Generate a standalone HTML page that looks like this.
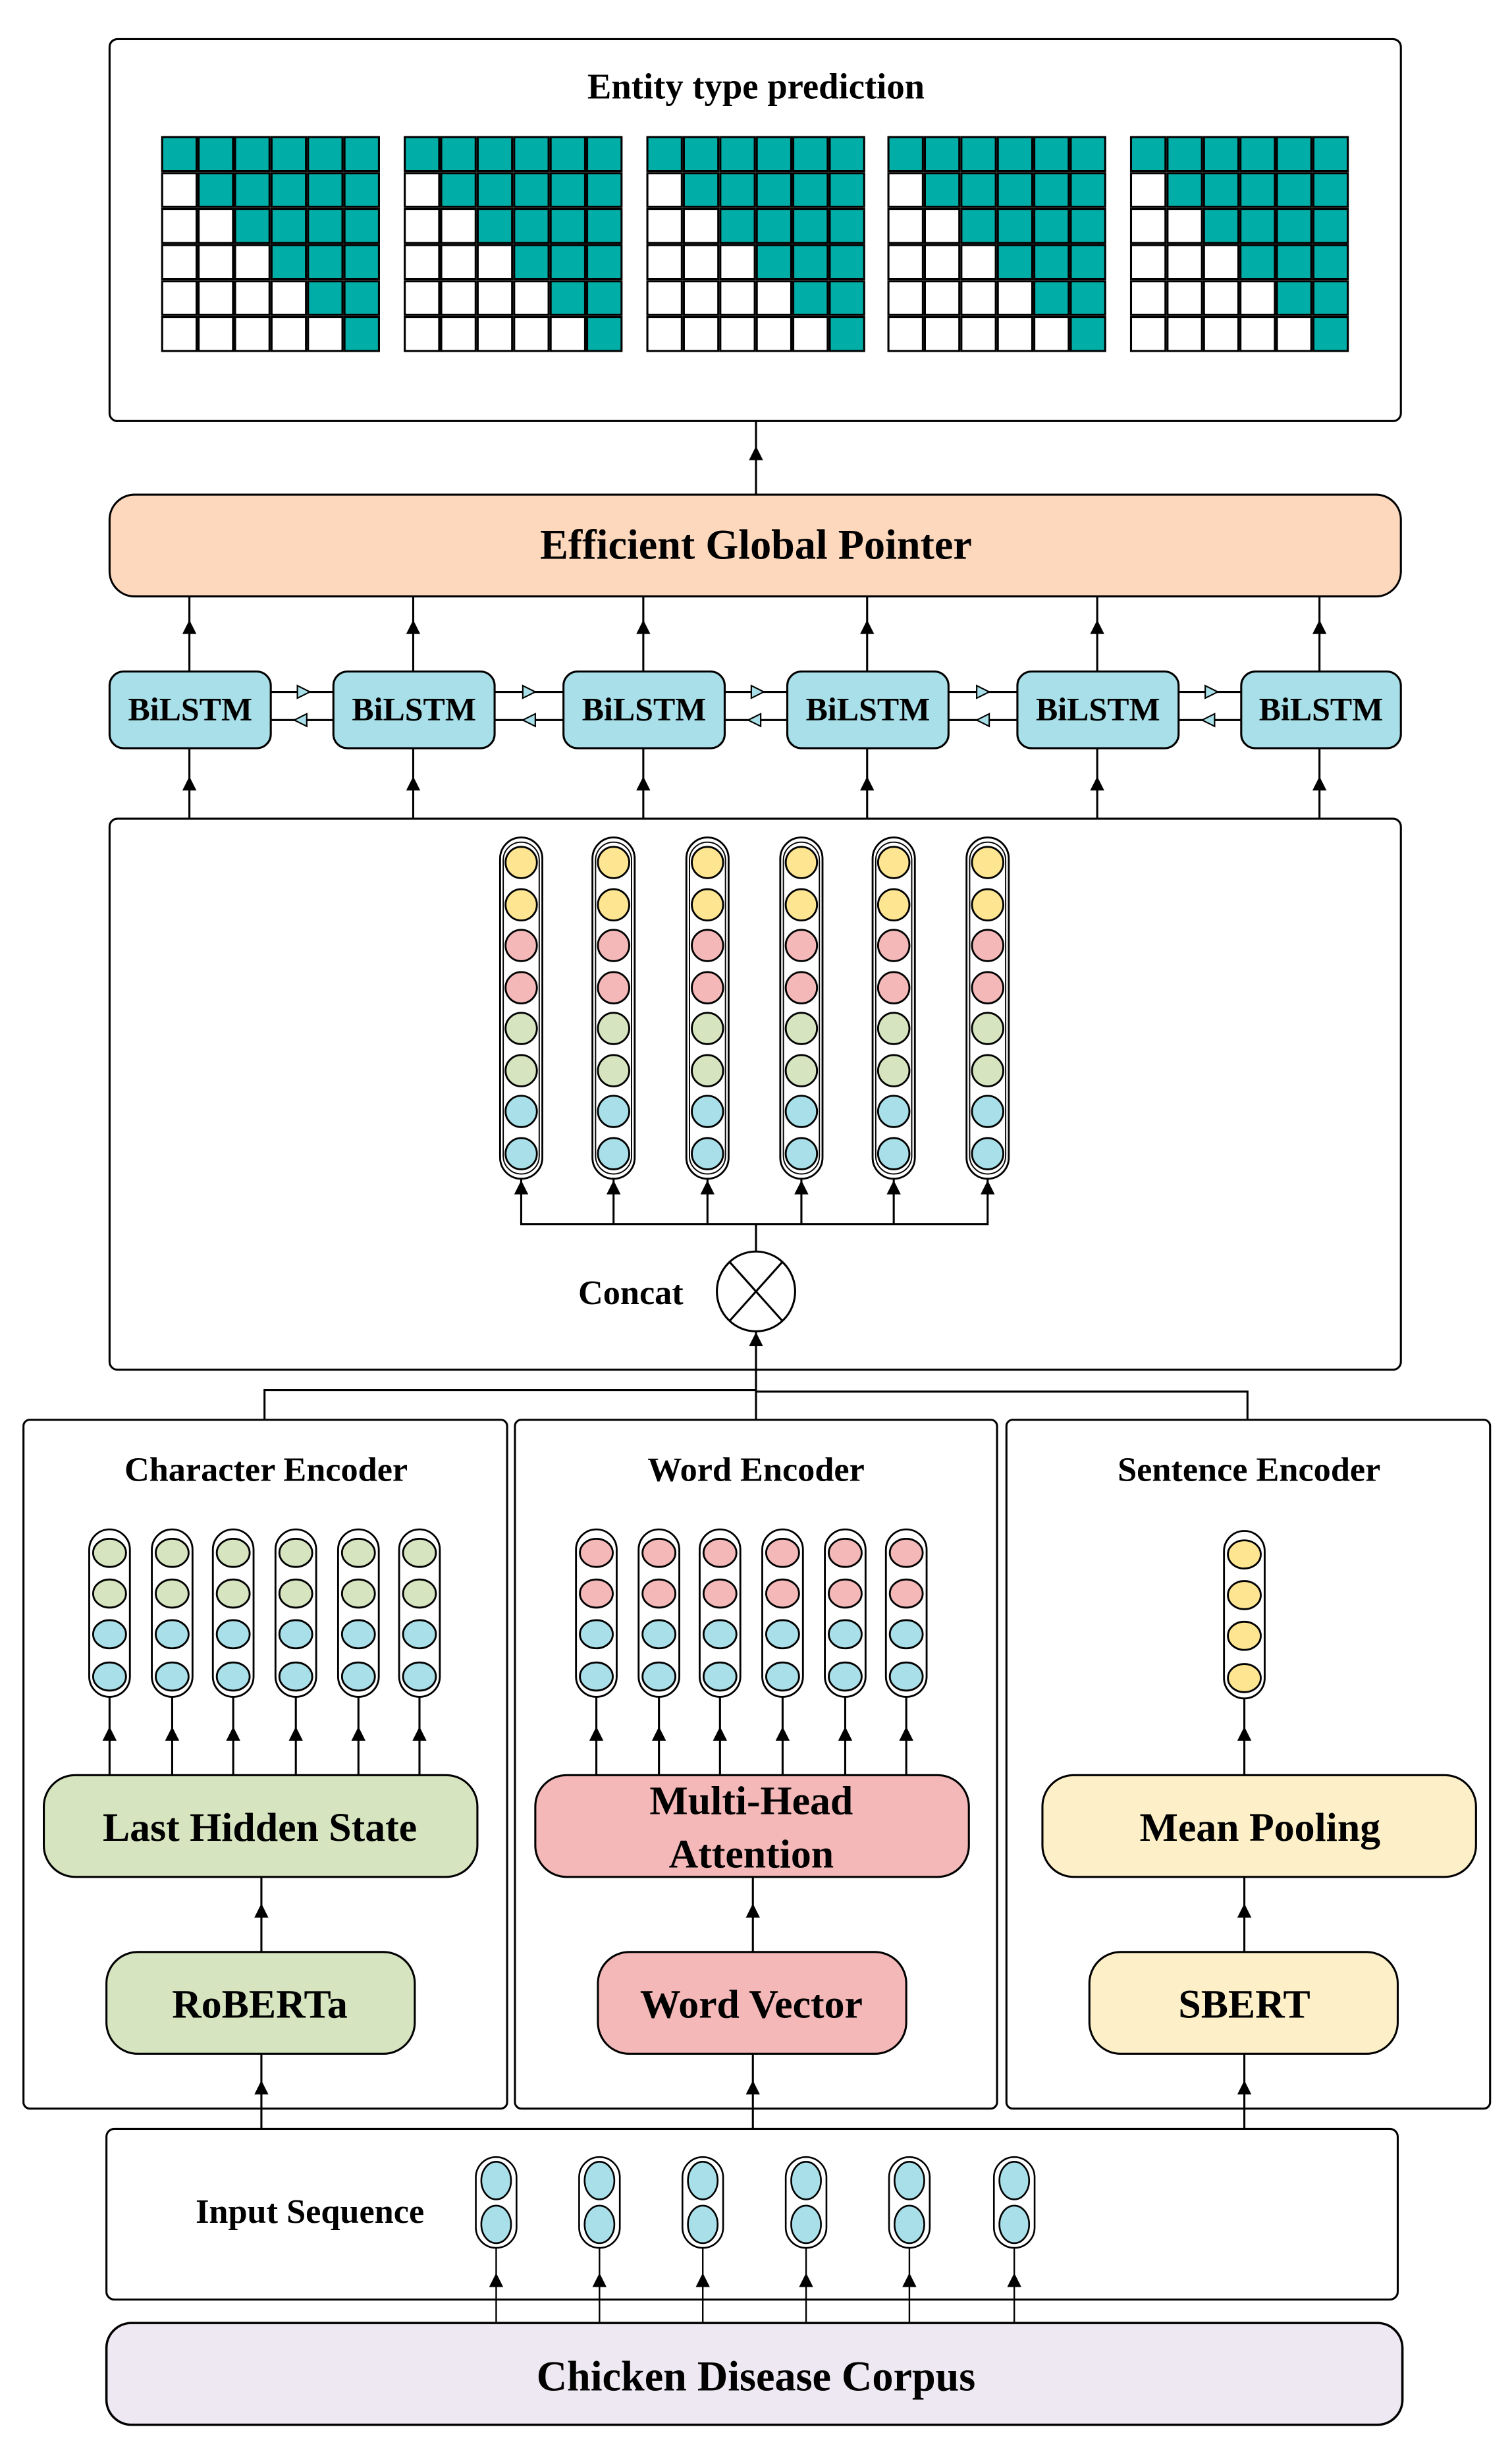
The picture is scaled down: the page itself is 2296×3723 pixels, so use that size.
<!DOCTYPE html>
<html><head><meta charset="utf-8"><style>
html,body{margin:0;padding:0;background:#fff;}
svg{display:block;}
text{font-family:"Liberation Serif",serif;font-weight:bold;fill:#000;}
</style></head><body>
<svg width="2296" height="3723" viewBox="0 0 966 1566.4" preserveAspectRatio="none" xmlns="http://www.w3.org/2000/svg">
<defs>
<polygon id="ah" points="0,0 -4.5,9 4.5,9" fill="#000"/>
<g id="grid" stroke="#000" stroke-width="1.3">
<rect x="0.6" y="0.6" width="22" height="21.6" fill="#00ada7"/><rect x="23.9" y="0.6" width="22" height="21.6" fill="#00ada7"/><rect x="47.2" y="0.6" width="22" height="21.6" fill="#00ada7"/><rect x="70.5" y="0.6" width="22" height="21.6" fill="#00ada7"/><rect x="93.8" y="0.6" width="22" height="21.6" fill="#00ada7"/><rect x="117.1" y="0.6" width="22" height="21.6" fill="#00ada7"/>
<rect x="0.6" y="23.6" width="22" height="21.6" fill="#fff"/><rect x="23.9" y="23.6" width="22" height="21.6" fill="#00ada7"/><rect x="47.2" y="23.6" width="22" height="21.6" fill="#00ada7"/><rect x="70.5" y="23.6" width="22" height="21.6" fill="#00ada7"/><rect x="93.8" y="23.6" width="22" height="21.6" fill="#00ada7"/><rect x="117.1" y="23.6" width="22" height="21.6" fill="#00ada7"/>
<rect x="0.6" y="46.6" width="22" height="21.6" fill="#fff"/><rect x="23.9" y="46.6" width="22" height="21.6" fill="#fff"/><rect x="47.2" y="46.6" width="22" height="21.6" fill="#00ada7"/><rect x="70.5" y="46.6" width="22" height="21.6" fill="#00ada7"/><rect x="93.8" y="46.6" width="22" height="21.6" fill="#00ada7"/><rect x="117.1" y="46.6" width="22" height="21.6" fill="#00ada7"/>
<rect x="0.6" y="69.6" width="22" height="21.6" fill="#fff"/><rect x="23.9" y="69.6" width="22" height="21.6" fill="#fff"/><rect x="47.2" y="69.6" width="22" height="21.6" fill="#fff"/><rect x="70.5" y="69.6" width="22" height="21.6" fill="#00ada7"/><rect x="93.8" y="69.6" width="22" height="21.6" fill="#00ada7"/><rect x="117.1" y="69.6" width="22" height="21.6" fill="#00ada7"/>
<rect x="0.6" y="92.6" width="22" height="21.6" fill="#fff"/><rect x="23.9" y="92.6" width="22" height="21.6" fill="#fff"/><rect x="47.2" y="92.6" width="22" height="21.6" fill="#fff"/><rect x="70.5" y="92.6" width="22" height="21.6" fill="#fff"/><rect x="93.8" y="92.6" width="22" height="21.6" fill="#00ada7"/><rect x="117.1" y="92.6" width="22" height="21.6" fill="#00ada7"/>
<rect x="0.6" y="115.6" width="22" height="21.6" fill="#fff"/><rect x="23.9" y="115.6" width="22" height="21.6" fill="#fff"/><rect x="47.2" y="115.6" width="22" height="21.6" fill="#fff"/><rect x="70.5" y="115.6" width="22" height="21.6" fill="#fff"/><rect x="93.8" y="115.6" width="22" height="21.6" fill="#fff"/><rect x="117.1" y="115.6" width="22" height="21.6" fill="#00ada7"/>
</g>
<g id="col8" stroke="#000" stroke-width="1.2">
<rect x="-13.5" y="0" width="27" height="218" rx="13.5" fill="#fff"/>
<rect x="-11.5" y="3" width="23" height="212" rx="11.5" fill="none" stroke-width="0.8"/>
<circle cx="0" cy="16" r="10" fill="#fde592"/><circle cx="0" cy="43" r="10" fill="#fde592"/>
<circle cx="0" cy="69" r="10" fill="#f4b8b8"/><circle cx="0" cy="96" r="10" fill="#f4b8b8"/>
<circle cx="0" cy="122" r="10" fill="#d6e4c0"/><circle cx="0" cy="149" r="10" fill="#d6e4c0"/>
<circle cx="0" cy="175" r="10" fill="#a8dfe8"/><circle cx="0" cy="202" r="10" fill="#a8dfe8"/>
</g>
<g id="colC" stroke="#000" stroke-width="1.2">
<rect x="-13" y="0" width="26" height="107" rx="13" fill="#fff"/>
<ellipse cx="0" cy="15" rx="10.5" ry="9" fill="#d6e4c0"/><ellipse cx="0" cy="41" rx="10.5" ry="9" fill="#d6e4c0"/>
<ellipse cx="0" cy="67" rx="10.5" ry="9" fill="#a8dfe8"/><ellipse cx="0" cy="94" rx="10.5" ry="9" fill="#a8dfe8"/>
</g>
<g id="colW" stroke="#000" stroke-width="1.2">
<rect x="-13" y="0" width="26" height="107" rx="13" fill="#fff"/>
<ellipse cx="0" cy="15" rx="10.5" ry="9" fill="#f4b8b8"/><ellipse cx="0" cy="41" rx="10.5" ry="9" fill="#f4b8b8"/>
<ellipse cx="0" cy="67" rx="10.5" ry="9" fill="#a8dfe8"/><ellipse cx="0" cy="94" rx="10.5" ry="9" fill="#a8dfe8"/>
</g>
<g id="colS" stroke="#000" stroke-width="1.2">
<rect x="-13" y="0" width="26" height="107" rx="13" fill="#fff"/>
<ellipse cx="0" cy="15" rx="10.5" ry="9" fill="#fde592"/><ellipse cx="0" cy="41" rx="10.5" ry="9" fill="#fde592"/>
<ellipse cx="0" cy="67" rx="10.5" ry="9" fill="#fde592"/><ellipse cx="0" cy="94" rx="10.5" ry="9" fill="#fde592"/>
</g>
<g id="colI" stroke="#000" stroke-width="1.1">
<rect x="-13" y="0" width="26" height="58" rx="13" fill="#fff"/>
<ellipse cx="0" cy="15" rx="9.5" ry="12" fill="#a8dfe8"/><ellipse cx="0" cy="43" rx="9.5" ry="12" fill="#a8dfe8"/>
</g>
<g id="fwd"><polygon points="0,-4 8,0 0,4" fill="#a8dfe8" stroke="#000" stroke-width="0.9"/></g>
<g id="bwd"><polygon points="0,-4 -8,0 0,4" fill="#a8dfe8" stroke="#000" stroke-width="0.9"/></g>
</defs>

<g fill="none" stroke="#000" stroke-width="1.3">
<!-- top box -->
<rect x="70" y="25" width="825" height="244" rx="5" fill="#fff"/>
</g>
<text x="483" y="63" font-size="23" text-anchor="middle">Entity type prediction</text>
<use href="#grid" x="103" y="87"/>
<use href="#grid" x="258" y="87"/>
<use href="#grid" x="413" y="87"/>
<use href="#grid" x="567" y="87"/>
<use href="#grid" x="722" y="87"/>

<g stroke="#000" stroke-width="1.3" fill="none">
<line x1="483" y1="269" x2="483" y2="316"/>
<!-- EGP to BiLSTM lines -->
<line x1="121" y1="381" x2="121" y2="429"/>
<line x1="264" y1="381" x2="264" y2="429"/>
<line x1="411" y1="381" x2="411" y2="429"/>
<line x1="554" y1="381" x2="554" y2="429"/>
<line x1="701" y1="381" x2="701" y2="429"/>
<line x1="843" y1="381" x2="843" y2="429"/>
<line x1="121" y1="478" x2="121" y2="523"/>
<line x1="264" y1="478" x2="264" y2="523"/>
<line x1="411" y1="478" x2="411" y2="523"/>
<line x1="554" y1="478" x2="554" y2="523"/>
<line x1="701" y1="478" x2="701" y2="523"/>
<line x1="843" y1="478" x2="843" y2="523"/>
<!-- horizontal between bilstm -->
<line x1="173" y1="442" x2="213" y2="442"/><line x1="173" y1="460" x2="213" y2="460"/>
<line x1="316" y1="442" x2="360" y2="442"/><line x1="316" y1="460" x2="360" y2="460"/>
<line x1="463" y1="442" x2="503" y2="442"/><line x1="463" y1="460" x2="503" y2="460"/>
<line x1="606" y1="442" x2="650" y2="442"/><line x1="606" y1="460" x2="650" y2="460"/>
<line x1="753" y1="442" x2="793" y2="442"/><line x1="753" y1="460" x2="793" y2="460"/>
</g>
<use href="#ah" x="483" y="285"/>
<use href="#ah" x="121" y="396"/><use href="#ah" x="264" y="396"/><use href="#ah" x="411" y="396"/><use href="#ah" x="554" y="396"/><use href="#ah" x="701" y="396"/><use href="#ah" x="843" y="396"/>
<use href="#ah" x="121" y="496"/><use href="#ah" x="264" y="496"/><use href="#ah" x="411" y="496"/><use href="#ah" x="554" y="496"/><use href="#ah" x="701" y="496"/><use href="#ah" x="843" y="496"/>
<use href="#fwd" x="190" y="442"/><use href="#bwd" x="196" y="460"/>
<use href="#fwd" x="334" y="442"/><use href="#bwd" x="342" y="460"/>
<use href="#fwd" x="480" y="442"/><use href="#bwd" x="486" y="460"/>
<use href="#fwd" x="624" y="442"/><use href="#bwd" x="632" y="460"/>
<use href="#fwd" x="770" y="442"/><use href="#bwd" x="776" y="460"/>

<!-- EGP -->
<rect x="70" y="316" width="825" height="65" rx="16" fill="#fdd8bd" stroke="#000" stroke-width="1.3"/>
<text x="483" y="357" font-size="27" text-anchor="middle">Efficient Global Pointer</text>

<!-- BiLSTMs -->
<g fill="#a8dfe8" stroke="#000" stroke-width="1.3">
<rect x="70" y="429" width="103" height="49" rx="9"/>
<rect x="213" y="429" width="103" height="49" rx="9"/>
<rect x="360" y="429" width="103" height="49" rx="9"/>
<rect x="503" y="429" width="103" height="49" rx="9"/>
<rect x="650" y="429" width="103" height="49" rx="9"/>
<rect x="793" y="429" width="102" height="49" rx="9"/>
</g>
<g font-size="21" text-anchor="middle">
<text x="121.5" y="460">BiLSTM</text><text x="264.5" y="460">BiLSTM</text><text x="411.5" y="460">BiLSTM</text>
<text x="554.5" y="460">BiLSTM</text><text x="701.5" y="460">BiLSTM</text><text x="844" y="460">BiLSTM</text>
</g>

<!-- middle box -->
<rect x="70" y="523" width="825" height="352" rx="5" fill="#fff" stroke="#000" stroke-width="1.3"/>
<use href="#col8" x="333" y="535"/><use href="#col8" x="392" y="535"/><use href="#col8" x="452" y="535"/>
<use href="#col8" x="512" y="535"/><use href="#col8" x="571" y="535"/><use href="#col8" x="631" y="535"/>
<g stroke="#000" stroke-width="1.3" fill="none">
<polyline points="333,753 333,782 631,782 631,753"/>
<line x1="392" y1="782" x2="392" y2="753"/><line x1="452" y1="782" x2="452" y2="753"/>
<line x1="512" y1="782" x2="512" y2="753"/><line x1="571" y1="782" x2="571" y2="753"/>
<line x1="483" y1="782" x2="483" y2="800"/>
<ellipse cx="483" cy="825" rx="25" ry="25.5" fill="#fff"/>
<line x1="466" y1="806" x2="500" y2="844"/><line x1="500" y1="806" x2="466" y2="844"/>
<line x1="483" y1="850" x2="483" y2="907"/>
<polyline points="169,907 169,888 483,888"/>
<polyline points="483,889 797,889 797,907"/>
</g>
<use href="#ah" x="333" y="754"/><use href="#ah" x="392" y="754"/><use href="#ah" x="452" y="754"/>
<use href="#ah" x="512" y="754"/><use href="#ah" x="571" y="754"/><use href="#ah" x="631" y="754"/>
<use href="#ah" x="483" y="851"/>
<text x="403" y="833" font-size="22" text-anchor="middle">Concat</text>

<!-- encoder boxes -->
<g fill="none" stroke="#000" stroke-width="1.3">
<rect x="15" y="907" width="309" height="440" rx="4"/>
<rect x="329" y="907" width="308" height="440" rx="4"/>
<rect x="643" y="907" width="309" height="440" rx="4"/>
</g>
<g font-size="22" text-anchor="middle">
<text x="170" y="946">Character Encoder</text>
<text x="483" y="946">Word Encoder</text>
<text x="798" y="946">Sentence Encoder</text>
</g>
<use href="#colC" x="70" y="977"/><use href="#colC" x="110" y="977"/><use href="#colC" x="149" y="977"/>
<use href="#colC" x="189" y="977"/><use href="#colC" x="229" y="977"/><use href="#colC" x="268" y="977"/>
<use href="#colW" x="381" y="977"/><use href="#colW" x="421" y="977"/><use href="#colW" x="460" y="977"/>
<use href="#colW" x="500" y="977"/><use href="#colW" x="540" y="977"/><use href="#colW" x="579" y="977"/>
<use href="#colS" x="795" y="978"/>
<g stroke="#000" stroke-width="1.3">
<line x1="70" y1="1084" x2="70" y2="1134"/><line x1="110" y1="1084" x2="110" y2="1134"/><line x1="149" y1="1084" x2="149" y2="1134"/>
<line x1="189" y1="1084" x2="189" y2="1134"/><line x1="229" y1="1084" x2="229" y2="1134"/><line x1="268" y1="1084" x2="268" y2="1134"/>
<line x1="381" y1="1084" x2="381" y2="1134"/><line x1="421" y1="1084" x2="421" y2="1134"/><line x1="460" y1="1084" x2="460" y2="1134"/>
<line x1="500" y1="1084" x2="500" y2="1134"/><line x1="540" y1="1084" x2="540" y2="1134"/><line x1="579" y1="1084" x2="579" y2="1134"/>
<line x1="795" y1="1085" x2="795" y2="1134"/>
<line x1="167" y1="1199" x2="167" y2="1247"/><line x1="481" y1="1199" x2="481" y2="1247"/><line x1="795" y1="1199" x2="795" y2="1247"/>
<line x1="167" y1="1312" x2="167" y2="1360"/><line x1="481" y1="1312" x2="481" y2="1360"/><line x1="795" y1="1312" x2="795" y2="1360"/>
</g>
<use href="#ah" x="70" y="1103"/><use href="#ah" x="110" y="1103"/><use href="#ah" x="149" y="1103"/>
<use href="#ah" x="189" y="1103"/><use href="#ah" x="229" y="1103"/><use href="#ah" x="268" y="1103"/>
<use href="#ah" x="381" y="1103"/><use href="#ah" x="421" y="1103"/><use href="#ah" x="460" y="1103"/>
<use href="#ah" x="500" y="1103"/><use href="#ah" x="540" y="1103"/><use href="#ah" x="579" y="1103"/>
<use href="#ah" x="795" y="1103"/>
<use href="#ah" x="167" y="1216"/><use href="#ah" x="481" y="1216"/><use href="#ah" x="795" y="1216"/>
<use href="#ah" x="167" y="1329"/><use href="#ah" x="481" y="1329"/><use href="#ah" x="795" y="1329"/>

<g stroke="#000" stroke-width="1.3">
<rect x="28" y="1134" width="277" height="65" rx="20" fill="#d6e4c0"/>
<rect x="68" y="1247" width="197" height="65" rx="20" fill="#d6e4c0"/>
<rect x="342" y="1134" width="277" height="65" rx="20" fill="#f4b8b8"/>
<rect x="382" y="1247" width="197" height="65" rx="20" fill="#f4b8b8"/>
<rect x="666" y="1134" width="277" height="65" rx="20" fill="#fdf0c8"/>
<rect x="696" y="1247" width="197" height="65" rx="20" fill="#fdf0c8"/>
</g>
<g font-size="26" text-anchor="middle">
<text x="166" y="1176">Last Hidden State</text>
<text x="166" y="1289">RoBERTa</text>
<text x="480" y="1159">Multi-Head</text>
<text x="480" y="1193">Attention</text>
<text x="480" y="1289">Word Vector</text>
<text x="805" y="1176">Mean Pooling</text>
<text x="795" y="1289">SBERT</text>
</g>

<!-- input -->
<rect x="68" y="1360" width="825" height="109" rx="5" fill="#fff" stroke="#000" stroke-width="1.3"/>
<text x="198" y="1420" font-size="22" text-anchor="middle">Input Sequence</text>
<use href="#colI" x="317" y="1378"/><use href="#colI" x="383" y="1378"/><use href="#colI" x="449" y="1378"/>
<use href="#colI" x="515" y="1378"/><use href="#colI" x="581" y="1378"/><use href="#colI" x="648" y="1378"/>
<g stroke="#000" stroke-width="1">
<line x1="317" y1="1436" x2="317" y2="1484"/><line x1="383" y1="1436" x2="383" y2="1484"/><line x1="449" y1="1436" x2="449" y2="1484"/>
<line x1="515" y1="1436" x2="515" y2="1484"/><line x1="581" y1="1436" x2="581" y2="1484"/><line x1="648" y1="1436" x2="648" y2="1484"/>
</g>
<use href="#ah" x="317" y="1452"/><use href="#ah" x="383" y="1452"/><use href="#ah" x="449" y="1452"/>
<use href="#ah" x="515" y="1452"/><use href="#ah" x="581" y="1452"/><use href="#ah" x="648" y="1452"/>

<rect x="68" y="1484" width="828" height="65" rx="16" fill="#ede8f1" stroke="#000" stroke-width="1.5"/>
<text x="483" y="1527" font-size="27" text-anchor="middle">Chicken Disease Corpus</text>
</svg>
</body></html>
